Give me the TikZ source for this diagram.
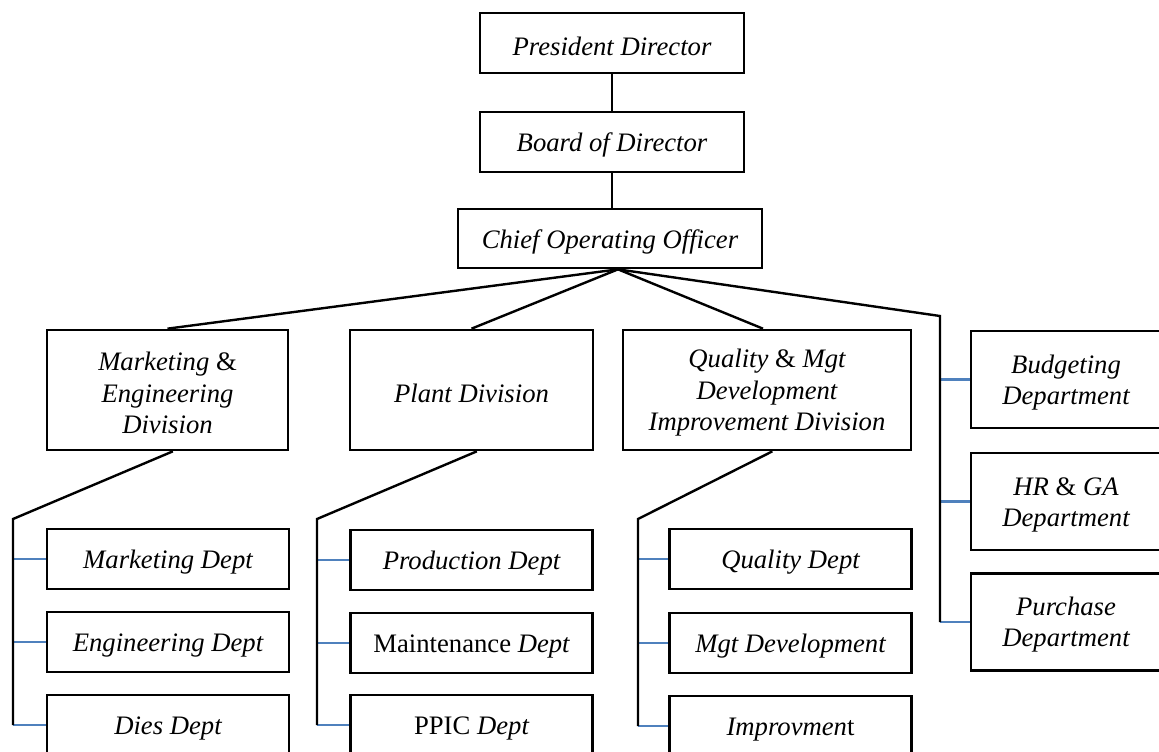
\documentclass[tikz,border=0pt]{standalone}
\usepackage{fontspec}
\setmainfont{Liberation Serif}
\definecolor{stubblue}{HTML}{4F81BD}
\begin{document}
\begin{tikzpicture}[x=0.75pt,y=-0.75pt,
  box/.style={draw=black,line width=2pt,rectangle,inner sep=0pt,align=center,
    text height=19pt,font=\fontsize{20}{23.5}\selectfont\itshape},
  twolines/.style={text height=41.7pt},
  threelines/.style={text height=65.2pt},
  toprow/.style={box,minimum width=198pt,minimum height=45pt},
  division/.style={box,minimum height=90pt},
  sidebox/.style={box,twolines,minimum width=142.5pt,minimum height=72.75pt},
  dept/.style={box,minimum width=181.5pt,minimum height=45pt},
  link/.style={draw=black,line width=1.8pt},
  stub/.style={draw=stubblue,line width=1.7pt}]
\useasboundingbox (0,0) rectangle (1159,751);
\clip (0,0) rectangle (1159,751);

% top of the hierarchy
\node[toprow] (pd)  at (612,43)  {President Director};
\node[toprow] (bod) at (612,142) {Board of Director};
\node[box,minimum width=228pt,minimum height=44.25pt] (coo) at (610,238.5) {Chief Operating Officer};

% divisions
\node[division,threelines,minimum width=180.75pt] (me) at (167.5,390) {Marketing \textup{\&}\\Engineering\\Division};
\node[division,minimum width=182.25pt] (plant) at (471.5,390) {Plant Division};
\node[division,threelines,minimum width=216pt] (qual) at (767,390) {Quality \textup{\&} Mgt\\Development\\Improvement Division};

% stand-alone departments on the right
\node[sidebox] (budget) at (1066,379.5) {Budgeting\\Department};
\node[sidebox] (hrga)   at (1066,501.5) {HR \textup{\&} GA\\Department};
\node[sidebox] (purch)  at (1066,622)   {Purchase\\Department};

% departments under each division
\node[dept] (mkt)  at (168,559) {Marketing Dept};
\node[dept] (eng)  at (168,642) {Engineering Dept};
\node[dept] (dies) at (168,725) {Dies Dept};

\node[dept] (prod)  at (471.5,560) {Production Dept};
\node[dept] (maint) at (471.5,643) {\textup{Maintenance} Dept};
\node[dept] (ppic)  at (471.5,725) {\textup{PPIC} Dept};

\node[dept] (qdept) at (790.5,559) {Quality Dept};
\node[dept] (mgtd)  at (790.5,643) {Mgt Development};
\node[dept] (impr)  at (790.5,726) {Improvmen\textup{t}};

% junction points of the connectors
\coordinate (hub)   at ([xshift=6pt]coo.south);
\coordinate (rbus)  at (940,316);
\coordinate (mebus) at (13,519);
\coordinate (plbus) at (317,519);
\coordinate (qubus) at (638,519);

% blue stubs into the departments
\path[stub] (budget.west -| rbus) -- (budget.west);
\path[stub] (hrga.west -| rbus) -- (hrga.west);
\path[stub] (purch.west -| rbus) -- (purch.west);
\foreach \d/\b in {mkt/mebus,eng/mebus,dies/mebus,prod/plbus,maint/plbus,ppic/plbus,qdept/qubus,mgtd/qubus,impr/qubus}
  \path[stub] (\d.west -| \b) -- (\d.west);

% black reporting lines
\path[link] (pd.south) -- (bod.north);
\path[link] (bod.south) -- (bod.south |- coo.north);
\path[link] (hub) -- (me.north);
\path[link] (hub) -- (plant.north);
\path[link] ([xshift=-3pt]qual.north) -- (hub);
\path[link] (hub) -- (rbus) -- (rbus |- purch.west);
\path[link] ([xshift=4pt]me.south) -- (mebus) -- (mebus |- dies.west);
\path[link] ([xshift=4pt]plant.south) -- (plbus) -- (plbus |- ppic.west);
\path[link] ([xshift=4pt]qual.south) -- (qubus) -- (qubus |- impr.west);
\end{tikzpicture}
\end{document}
